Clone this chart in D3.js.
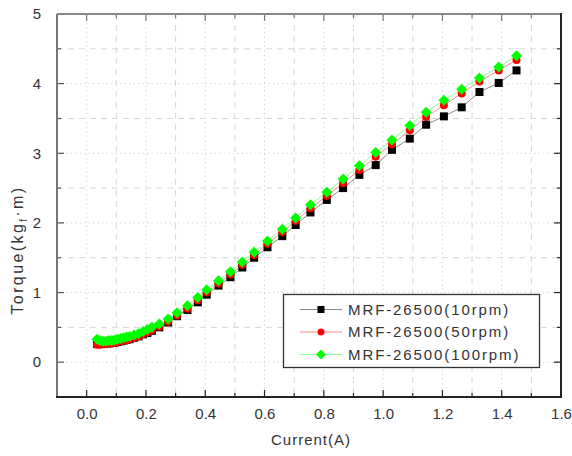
<!DOCTYPE html>
<html>
<head>
<meta charset="utf-8">
<script src="https://cdn.jsdelivr.net/npm/d3@7"></script>
<style>
  html, body { margin: 0; padding: 0; background: #fff; }
  svg { display: block; }
  text { font-family: Arial, "Liberation Sans", sans-serif; fill: #333; }
</style>
</head>
<body>
<svg id="chart" width="572" height="456"></svg>
<script>
// Current (A) at each measurement step
const current = [0.035, 0.045, 0.055, 0.065, 0.075, 0.085, 0.095, 0.105, 0.115, 0.125,
  0.135, 0.145, 0.160, 0.175, 0.190, 0.205, 0.220, 0.245, 0.275, 0.305,
  0.340, 0.375, 0.405, 0.445, 0.485, 0.525, 0.565, 0.610, 0.660, 0.705,
  0.755, 0.810, 0.865, 0.920, 0.975, 1.030, 1.090, 1.145, 1.205, 1.265,
  1.325, 1.390, 1.450];

// Torque (kgf·m) per rotation speed
const torque10 = [0.26, 0.26, 0.26, 0.27, 0.27, 0.28, 0.28, 0.29, 0.30, 0.31,
  0.32, 0.33, 0.35, 0.37, 0.40, 0.42, 0.45, 0.50, 0.57, 0.66,
  0.75, 0.86, 0.97, 1.10, 1.22, 1.36, 1.50, 1.65, 1.81, 1.97,
  2.15, 2.33, 2.50, 2.69, 2.83, 3.05, 3.21, 3.41, 3.53, 3.66,
  3.88, 4.01, 4.19];
const torque50 = [0.25, 0.25, 0.26, 0.26, 0.27, 0.27, 0.28, 0.29, 0.30, 0.31,
  0.32, 0.33, 0.35, 0.37, 0.40, 0.43, 0.46, 0.51, 0.58, 0.67,
  0.77, 0.89, 1.00, 1.13, 1.26, 1.40, 1.54, 1.70, 1.87, 2.03,
  2.21, 2.39, 2.57, 2.76, 2.95, 3.13, 3.33, 3.52, 3.69, 3.86,
  4.03, 4.19, 4.34];
const torque100 = [0.33, 0.31, 0.30, 0.30, 0.31, 0.31, 0.32, 0.33, 0.34, 0.35,
  0.36, 0.37, 0.39, 0.41, 0.44, 0.47, 0.50, 0.55, 0.62, 0.71,
  0.81, 0.93, 1.04, 1.17, 1.30, 1.44, 1.58, 1.74, 1.91, 2.07,
  2.26, 2.44, 2.63, 2.82, 3.01, 3.19, 3.40, 3.59, 3.76, 3.92,
  4.08, 4.24, 4.40];

const seriesNames = ["MRF-26500(10rpm)", "MRF-26500(50rpm)", "MRF-26500(100rpm)"];
const xTicks = [0.0, 0.2, 0.4, 0.6, 0.8, 1.0, 1.2, 1.4, 1.6];
const yTicks = [0, 1, 2, 3, 4, 5];

const series = [
  { name: seriesNames[0], values: torque10, marker: "square", color: "#000000", line: "#8a8a8a", size: 8 },
  { name: seriesNames[1], values: torque50, marker: "circle", color: "#ff0000", line: "#ff8c8c", size: 8 },
  { name: seriesNames[2], values: torque100, marker: "diamond", color: "#00ff00", line: "#8cff8c", size: 11 }
];

const svg = d3.select("#chart");
const plot = { left: 57, right: 561, top: 14, bottom: 397 };

const x = d3.scaleLinear().domain([-0.1, 1.6]).range([plot.left, plot.right]);
const y = d3.scaleLinear().domain([-0.5, 5]).range([plot.bottom, plot.top]);

// grid: dotted at major ticks, dashed at minor ticks
const grid = svg.append("g").attr("stroke", "#d6d6d6").attr("stroke-width", 1);
const xMinor = [0.1, 0.3, 0.5, 0.7, 0.9, 1.1, 1.3, 1.5];
const yMinor = [0.5, 1.5, 2.5, 3.5, 4.5];
xTicks.slice(0, -1).forEach(v => grid.append("line")
  .attr("x1", x(v)).attr("x2", x(v)).attr("y1", plot.top).attr("y2", plot.bottom)
  .attr("stroke-dasharray", "1.5,3"));
xMinor.forEach(v => grid.append("line")
  .attr("x1", x(v)).attr("x2", x(v)).attr("y1", plot.top).attr("y2", plot.bottom)
  .attr("stroke-dasharray", "6,5"));
yTicks.slice(0, -1).forEach(v => grid.append("line")
  .attr("x1", plot.left).attr("x2", plot.right).attr("y1", y(v)).attr("y2", y(v))
  .attr("stroke-dasharray", "1.5,3"));
yMinor.forEach(v => grid.append("line")
  .attr("x1", plot.left).attr("x2", plot.right).attr("y1", y(v)).attr("y2", y(v))
  .attr("stroke-dasharray", "6,5"));

// axes with inward ticks on all four sides
const xAll = d3.range(0, 17).map(i => +(i * 0.1).toFixed(1));
const yAll = d3.range(-1, 11).map(i => i * 0.5);

const bottomAxis = d3.axisBottom(x).tickValues(xTicks).tickSize(0).tickPadding(11)
  .tickFormat(d3.format(".1f"));
const gB = svg.append("g").attr("transform", `translate(0,${plot.bottom})`).call(bottomAxis);
gB.select(".domain").remove();
gB.selectAll("text").attr("font-size", 15).attr("fill", "#3a3a3a")
  .attr("font-family", "Arial, 'Liberation Sans', sans-serif");

const leftAxis = d3.axisLeft(y).tickValues(yTicks).tickSize(0).tickPadding(16)
  .tickFormat(d3.format("d"));
const gL = svg.append("g").attr("transform", `translate(${plot.left},0)`).call(leftAxis);
gL.select(".domain").remove();
gL.selectAll("text").attr("font-size", 15).attr("fill", "#3a3a3a")
  .attr("font-family", "Arial, 'Liberation Sans', sans-serif");

const ticks = svg.append("g").attr("stroke-width", 1.2);
xAll.forEach(v => {
  const len = Math.round(v * 10) % 2 === 0 ? 7 : 4;
  ticks.append("line").attr("x1", x(v)).attr("x2", x(v))
    .attr("y1", plot.bottom).attr("y2", plot.bottom - len).attr("stroke", "#222");
  ticks.append("line").attr("x1", x(v)).attr("x2", x(v))
    .attr("y1", plot.top).attr("y2", plot.top + len).attr("stroke", "#777");
});
yAll.forEach(v => {
  const len = Number.isInteger(v) ? 7 : 4;
  ticks.append("line").attr("x1", plot.left).attr("x2", plot.left + len)
    .attr("y1", y(v)).attr("y2", y(v)).attr("stroke", "#555");
  ticks.append("line").attr("x1", plot.right).attr("x2", plot.right - len)
    .attr("y1", y(v)).attr("y2", y(v)).attr("stroke", "#222");
});

// frame: lighter top/left edges, darker bottom/right edges
svg.append("line").attr("x1", plot.left).attr("x2", plot.right).attr("y1", plot.top).attr("y2", plot.top)
  .attr("stroke", "#888").attr("stroke-width", 2);
svg.append("line").attr("x1", plot.left).attr("x2", plot.left).attr("y1", plot.top).attr("y2", plot.bottom)
  .attr("stroke", "#777").attr("stroke-width", 2);
svg.append("line").attr("x1", plot.left - 1).attr("x2", plot.right + 1).attr("y1", plot.bottom).attr("y2", plot.bottom)
  .attr("stroke", "#222").attr("stroke-width", 2);
svg.append("line").attr("x1", plot.right).attr("x2", plot.right).attr("y1", plot.top - 1).attr("y2", plot.bottom)
  .attr("stroke", "#222").attr("stroke-width", 2);

// marker shapes
function markerPath(kind, size) {
  const h = size / 2;
  if (kind === "square") return `M${-h},${-h}H${h}V${h}H${-h}Z`;
  if (kind === "diamond") return `M0,${-h}L${h},0L0,${h}L${-h},0Z`;
  return d3.symbol(d3.symbolCircle, Math.PI * h * h)();
}

const lineGen = d3.line().x(d => x(d[0])).y(d => y(d[1]));
series.forEach(s => {
  const pts = current.map((c, i) => [c, s.values[i]]);
  svg.append("path").datum(pts).attr("d", lineGen)
    .attr("fill", "none").attr("stroke", s.line).attr("stroke-width", 1);
});
series.forEach(s => {
  const pts = current.map((c, i) => [c, s.values[i]]);
  svg.append("g").selectAll("path").data(pts).join("path")
    .attr("transform", d => `translate(${x(d[0])},${y(d[1])})`)
    .attr("d", markerPath(s.marker, s.size))
    .attr("fill", s.color);
});

// axis titles
svg.append("text").attr("x", (plot.left + plot.right) / 2 + 2).attr("y", 445)
  .attr("text-anchor", "middle").attr("font-size", 15).attr("letter-spacing", 1)
  .text("Current(A)");
const yTitle = svg.append("text")
  .attr("transform", "translate(23,250) rotate(-90)")
  .attr("text-anchor", "middle").attr("font-size", 16).attr("letter-spacing", 2.4);
yTitle.append("tspan").text("Torque(kg");
yTitle.append("tspan").attr("font-size", 10).attr("dy", 4).text("f");
yTitle.append("tspan").attr("dy", -4).text("·m)");

// legend
const lg = svg.append("g");
lg.append("rect").attr("x", 283.5).attr("y", 294.5).attr("width", 256).attr("height", 73)
  .attr("fill", "#fff").attr("stroke", "#333").attr("stroke-width", 1.3);
series.forEach((s, i) => {
  const cy = 309.5 + i * 22.5;
  lg.append("line").attr("x1", 300).attr("x2", 342).attr("y1", cy).attr("y2", cy)
    .attr("stroke", s.line).attr("stroke-width", 1.2);
  lg.append("path").attr("transform", `translate(321,${cy})`)
    .attr("d", markerPath(s.marker, s.marker === "diamond" ? 10 : 7)).attr("fill", s.color);
  lg.append("text").attr("x", 348).attr("y", cy + 5).attr("font-size", 15)
    .attr("letter-spacing", 1.9).text(s.name);
});
</script>
</body>
</html>
